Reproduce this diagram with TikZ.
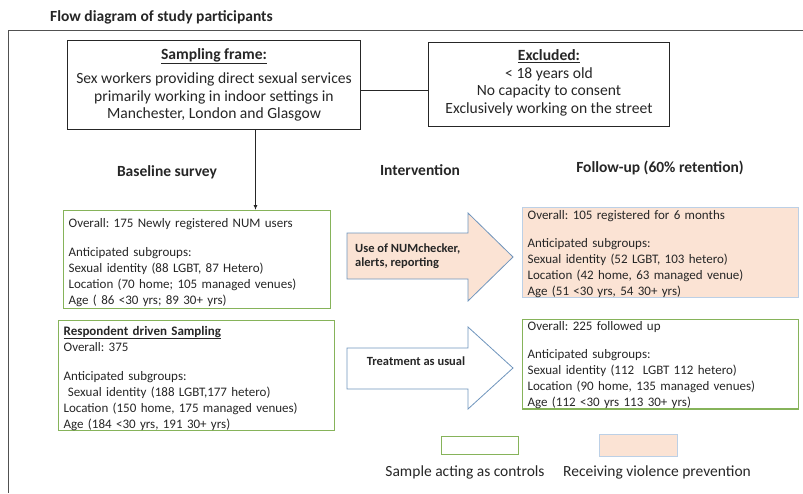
\documentclass[tikz,border=0pt]{standalone}
\usepackage{fontspec}
\setmainfont{Carlito}
\usepackage{xcolor}
\usepackage{tikz}
\usetikzlibrary{arrows.meta, positioning}
\frenchspacing

\definecolor{boxgreen}{HTML}{86B35A}
\definecolor{peach}{HTML}{FBE3D4}
\definecolor{arrowblue}{HTML}{6F95BD}
\definecolor{paleblue}{HTML}{BCD0E6}
\definecolor{ink}{HTML}{262626}

\begin{document}
\begin{tikzpicture}[
          x=1pt, y=-1pt,
          every node/.style={text=ink, inner sep=0pt},
          heading/.style={font=\bfseries\fontsize{15.5}{18}\selectfont},
          bigbox/.style={draw=ink, line width=1pt, anchor=north west, align=center,
            font=\fontsize{15.6}{17.5}\selectfont},
          keybox/.style={draw=boxgreen, line width=1.3pt, anchor=north west},
          greenbox/.style={keybox, align=left, inner xsep=5pt,
            font=\fontsize{13}{16}\selectfont, execute at begin node={\rule{0pt}{#1}}},
          greenbox/.default=14pt,
          peachbox/.style={greenbox=#1, draw=paleblue, fill=peach},
          peachbox/.default=11pt,
          blockarrow/.style={draw=arrowblue, line width=0.8pt},
          arrowtext/.style={font=\bfseries\fontsize{12.5}{14.5}\selectfont, align=left}
        ]
          \useasboundingbox (0,0) rectangle (803,493);
          \node[heading, anchor=west] (title) at (50,17) {Flow diagram of study participants};
          \draw[draw=ink!80, line width=0.9pt] (803,30) -- (8,30) -- (8,493);

          \node[bigbox, minimum width=293pt, minimum height=89pt] (sf) at (67,40)
            {\underline{\textbf{Sampling frame:}}\\[7pt]
             Sex workers providing direct sexual services\\
             primarily working in indoor settings in\\
             Manchester, London and Glasgow};
          \node[bigbox, minimum width=241pt, minimum height=84pt] (ex) at (428,42)
            {\underline{\textbf{Excluded:}}\\
             < 18 years old\\
             No capacity to consent\\
             Exclusively working on the street\\[-11.5pt]};
          \draw[draw=ink, line width=0.8pt] ([yshift=-5.5pt]sf.east) -- ([yshift=-5.5pt]sf.east -| ex.west);

          \node[heading] (hbase) at (167,172) {Baseline survey};
          \node[heading] (hint) at (420,170) {Intervention};
          \node[heading] (hfol) at (660,168) {Follow-up (60\% retention)};

          \node[greenbox, text width=257pt, minimum height=98pt] (bs1) at (63,210)
            {Overall: 175 Newly registered NUM users\\[13pt]
             Anticipated subgroups:\\
             Sexual identity (88 LGBT, 87 Hetero)\\
             Location (70 home; 105 managed venues)\\
             Age ( 86 <30 yrs; 89 30+ yrs)};
          \node[greenbox, text width=266pt, minimum height=110pt] (rds) at (58,320)
            {\underline{\textbf{Respondent driven Sampling}}\\
             Overall: 375\\[13pt]
             Anticipated subgroups:\\
             \ Sexual identity (188 LGBT,177 hetero)\\
             Location (150 home, 175 managed venues)\\
             Age (184 <30 yrs, 191 30+ yrs)};
          \draw[-{Latex[length=5pt, width=4pt]}, draw=ink, line width=1.3pt]
            ([xshift=41.5pt]sf.south) -- ([xshift=41.5pt]sf.south |- bs1.north);

          \draw[blockarrow, fill=peach] (347,233) -- (468,233) -- (468,213) -- (513,257)
            -- (468,301) -- (468,279) -- (347,279) -- cycle;
          \draw[blockarrow, fill=white] (347,348) -- (468,348) -- (468,327) -- (513,368)
            -- (468,409) -- (468,389) -- (347,389) -- cycle;
          \node[arrowtext, anchor=west] (use) at (355,256) {Use of NUMchecker,\\alerts, reporting};
          \node[arrowtext] (tau) at (416,361) {Treatment as usual};

          \node[peachbox, text width=266pt, minimum height=90pt] (fu1) at (522,207)
            {Overall: 105 registered for 6 months\\[12pt]
             Anticipated subgroups:\\
             Sexual identity (52 LGBT, 103 hetero)\\
             Location (42 home, 63 managed venue)\\
             Age (51 <30 yrs, 54 30+ yrs)};
          \node[greenbox=11pt, text width=266pt, minimum height=88pt] (fu2) at (522,319)
            {Overall: 225 followed up\\[12pt]
             Anticipated subgroups:\\
             Sexual identity (112~ LGBT 112 hetero)\\
             Location (90 home, 135 managed venues)\\
             Age (112 <30 yrs 113 30+ yrs)};

          \node[keybox, minimum width=77pt, minimum height=18pt] (lg1) at (441,436) {};
          \node[keybox, draw=paleblue, fill=peach, minimum width=78pt, minimum height=22pt] (lg2) at (599,434) {};
          \node[font=\fontsize{15.5}{18}\selectfont] (lt1) at (465,472) {Sample acting as controls};
          \node[font=\fontsize{15.5}{18}\selectfont] (lt2) at (657,472) {Receiving violence prevention};
        \end{tikzpicture}
\end{document}
